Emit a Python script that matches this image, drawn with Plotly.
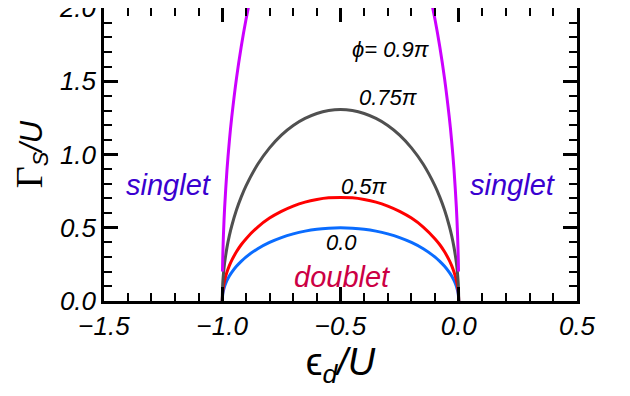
import plotly.graph_objects as go

# values
x_main = [-1.0, -0.998, -0.995, -0.99, -0.98, -0.97, -0.96, -0.94, -0.92, -0.9, -0.85, -0.8, -0.75, -0.7, -0.65,
          -0.6, -0.55, -0.5, -0.45, -0.4, -0.35, -0.3, -0.25, -0.2, -0.15, -0.1, -0.08, -0.06, -0.04, -0.03,
          -0.02, -0.01, -0.005, -0.002, 0.0]
phi0 = [0.0, 0.045, 0.071, 0.100, 0.140, 0.171, 0.196, 0.237, 0.271, 0.300, 0.357, 0.400, 0.433, 0.458, 0.477,
        0.490, 0.497, 0.500, 0.497, 0.490, 0.477, 0.458, 0.433, 0.400, 0.357, 0.300, 0.271, 0.237, 0.196, 0.171,
        0.140, 0.100, 0.071, 0.045, 0.0]
phi05 = [0.0, 0.063, 0.100, 0.141, 0.198, 0.241, 0.277, 0.336, 0.384, 0.424, 0.505, 0.566, 0.612, 0.648, 0.675,
         0.693, 0.704, 0.707, 0.704, 0.693, 0.675, 0.648, 0.612, 0.566, 0.505, 0.424, 0.384, 0.336, 0.277, 0.241,
         0.198, 0.141, 0.100, 0.063, 0.0]
phi075 = [0.0, 0.117, 0.184, 0.260, 0.366, 0.446, 0.512, 0.621, 0.709, 0.784, 0.933, 1.045, 1.132, 1.198, 1.246,
          1.280, 1.300, 1.307, 1.300, 1.280, 1.246, 1.198, 1.132, 1.045, 0.933, 0.784, 0.709, 0.621, 0.512, 0.446,
          0.366, 0.260, 0.184, 0.117, 0.0]
x_09_left = [-0.999, -0.998, -0.995, -0.99, -0.98, -0.97, -0.96, -0.94, -0.92, -0.9, -0.88]
phi09_left = [0.202, 0.286, 0.451, 0.636, 0.895, 1.091, 1.253, 1.518, 1.734, 1.918, 2.078]
x_09_right = [-0.12, -0.1, -0.08, -0.06, -0.04, -0.03, -0.02, -0.01, -0.005, -0.002, -0.001]
phi09_right = [2.078, 1.918, 1.734, 1.518, 1.253, 1.091, 0.895, 0.636, 0.451, 0.286, 0.202]

x_ticks = [-1.5, -1.0, -0.5, 0.0, 0.5]
x_ticktext = ["\u22121.5", "\u22121.0", "\u22120.5", "0.0", "0.5"]
y_ticks = [0.0, 0.5, 1.0, 1.5, 2.0]
y_ticktext = ["0.0", "0.5", "1.0", "1.5", "2.0"]

LW = 3
fig = go.Figure()
for xs, ys, col in [(x_main, phi0, "#0a6cff"), (x_main, phi05, "#ff0000"), (x_main, phi075, "#505050"),
                    (x_09_left, phi09_left, "#cc00ff"), (x_09_right, phi09_right, "#cc00ff")]:
    fig.add_trace(go.Scatter(x=xs, y=ys, mode="lines", cliponaxis=True,
                             line=dict(color=col, width=LW, shape="spline", smoothing=0.8)))

tickfont = dict(family="Liberation Sans", size=26, color="black", style="italic")
axis_common = dict(showline=True, linecolor="black", linewidth=2.5, mirror="ticks",
                   ticks="inside", ticklen=14, tickwidth=2.5, tickcolor="black",
                   showgrid=False, zeroline=False, tickfont=tickfont, automargin=False,
                   ticklabeloverflow="allow")

fig.update_xaxes(range=[-1.5, 0.5], tickvals=x_ticks, ticktext=x_ticktext,
                 minor=dict(dtick=0.1, ticks="inside", ticklen=8, tickwidth=2, tickcolor="black", showgrid=False),
                 title=dict(text="\u03f5<sub><i>d</i></sub><i>/U</i>",
                            font=dict(family="Liberation Sans", size=38, color="black"), standoff=4),
                 **axis_common)
fig.update_yaxes(range=[0, 2.0], tickvals=y_ticks, ticktext=y_ticktext,
                 minor=dict(dtick=0.1, ticks="inside", ticklen=8, tickwidth=2, tickcolor="black", showgrid=False),
                 title=dict(text="<span style='font-family:Liberation Serif;font-size:38px'>\u0393</span><sub><i>S</i></sub><i>/U</i>",
                            font=dict(family="Liberation Sans", size=31, color="black"), standoff=8),
                 **axis_common)

def ann(x, y, text, color="black", size=22):
    fig.add_annotation(x=x, y=y, xref="x", yref="y", text=text, showarrow=False,
                       font=dict(family="Liberation Sans", size=size, color=color, style="italic"))

ann(-0.285, 1.72, "\u03d5= 0.9\u03c0")
ann(-0.295, 1.39, "0.75\u03c0")
ann(-0.40, 0.785, "0.5\u03c0")
ann(-0.494, 0.40, "0.0")
ann(-0.49, 0.165, "doublet", color="#cc0044", size=29)
ann(-1.226, 0.79, "singlet", color="#3a00d0", size=29)
ann(0.23, 0.79, "singlet", color="#3a00d0", size=29)

fig.update_layout(width=630, height=396, margin=dict(l=96, r=61, t=0, b=103),
                  plot_bgcolor="white", paper_bgcolor="white", showlegend=False)
fig.write_html("out.html")
